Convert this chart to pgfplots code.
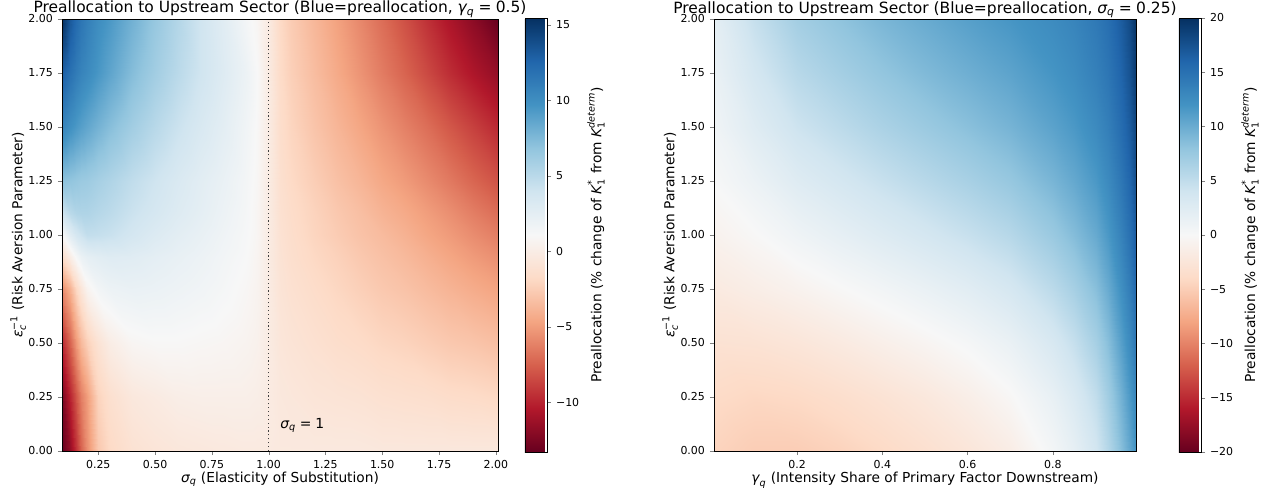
\documentclass[border=0pt]{standalone}
\usepackage{amsmath}
\usepackage{pgfplots}
\pgfplotsset{compat=1.18}
\usepackage{fontspec}
\setmainfont{DejaVu Sans}
\newcommand{\mi}[1]{\text{\itshape #1}}
\newcommand{\mr}[1]{\text{#1}}
\newcommand{\cblabel}{Preallocation (\% change of $\mi{K}_{\mr{1}}^{\mr{*}}$ from $\mi{K}_{\mr{1}}^{\mi{determ}}$)}
\newcommand{\epslabel}{$\mi{ε}_{\mi{c}}^{\mr{−1}}$ (Risk Aversion Parameter)}

\pgfplotsset{
  colormap={RdBu}{rgb255=(103,0,31) rgb255=(178,24,43) rgb255=(214,96,77) rgb255=(244,165,130) rgb255=(253,219,199) rgb255=(247,247,247) rgb255=(209,229,240) rgb255=(146,197,222) rgb255=(67,147,195) rgb255=(33,102,172) rgb255=(5,48,97)},
  every axis/.append style={
    /pgf/number format/assume math mode=true,
    tick label style={font=\fontsize{7.9}{9}\selectfont},
    label style={font=\fontsize{9.9}{12}\selectfont},
    tick align=outside,
    major tick length=3pt,
    axis line style={black, line width=0.6pt},
  },
  every axis title/.style={at={(0.5,1)}, anchor=south, inner sep=0.4pt, font=\fontsize{11.15}{13}\selectfont},
  heat/.style={
    scale only axis,
    height=311.04pt,
    ymin=0, ymax=2,
    ytick={0,0.25,0.5,0.75,1,1.25,1.5,1.75,2},
    yticklabels={0.00,0.25,0.50,0.75,1.00,1.25,1.50,1.75,2.00},
    xtick pos=bottom, ytick pos=left,
    axis on top,
    ylabel={\epslabel},
    ylabel shift=-5pt,
    xlabel shift=-4pt,
    colorbar,
  },
}

\begin{document}
\begin{tikzpicture}
\useasboundingbox (0,0) rectangle (907.92pt,354.24pt);

\begin{axis}[heat,
  at={(44.64pt,29.52pt)}, anchor=south west,
  width=313.92pt,
  xmin=0.0904, xmax=2.0096,
  xtick={0.25,0.5,0.75,1,1.25,1.5,1.75,2},
  xticklabels={0.25,0.50,0.75,1.00,1.25,1.50,1.75,2.00},
  xlabel={$\mi{σ}_{\mi{q}}$ (Elasticity of Substitution)},
  title={Preallocation to Upstream Sector (Blue=preallocation, $\mi{γ}_{\mi{q}}\mathrel{\mr{=}}\mr{0.5}$)},
  point meta min=-13.3, point meta max=15.46,
  colorbar style={
    at={(parent axis.north east)}, anchor=north west,
    xshift=10.9pt, yshift=0.72pt,
    width=15.84pt, height=312.48pt,
    ytick={-10,-5,0,5,10,15},
    yticklabels={−10,−5,0,5,10,15},
    ytick pos=right, yticklabel pos=right,
    ylabel={\cblabel},
    ylabel shift=-1pt,
  },
]
\addplot[surf, shader=interp, mesh/rows=11, mesh/cols=26, point meta=explicit] coordinates {
(0.0904,0)[-13.3] (0.125,0)[-11.6] (0.15,0)[-9.4] (0.175,0)[-7.4] (0.2,0)[-5.6] (0.25,0)[-2.8] (0.3,0)[-1.8] (0.4,0)[-1.1] (0.5,0)[-0.8] (0.6,0)[-0.6] (0.7,0)[-0.5] (0.8,0)[-0.4] (0.9,0)[-0.3] (0.95,0)[-0.3] (1.0,0)[-0.3] (1.05,0)[-0.4] (1.1,0)[-0.4] (1.2,0)[-0.4] (1.3,0)[-0.4] (1.4,0)[-0.4] (1.5,0)[-0.5] (1.6,0)[-0.5] (1.7,0)[-0.5] (1.8,0)[-0.5] (1.9,0)[-0.5] (2.0096,0)[-0.5]
(0.0904,0.25)[-12.6] (0.125,0.25)[-10.0] (0.15,0.25)[-8.0] (0.175,0.25)[-6.3] (0.2,0.25)[-5.0] (0.25,0.25)[-2.2] (0.3,0.25)[-1.3] (0.4,0.25)[-0.5] (0.5,0.25)[-0.2] (0.6,0.25)[0.1] (0.7,0.25)[0.2] (0.8,0.25)[0.2] (0.9,0.25)[0.2] (0.95,0.25)[0.1] (1.0,0.25)[-0.2] (1.05,0.25)[-0.5] (1.1,0.25)[-0.6] (1.2,0.25)[-0.8] (1.3,0.25)[-0.9] (1.4,0.25)[-1.0] (1.5,0.25)[-1.2] (1.6,0.25)[-1.3] (1.7,0.25)[-1.4] (1.8,0.25)[-1.6] (1.9,0.25)[-1.7] (2.0096,0.25)[-1.9]
(0.0904,0.5)[-9.8] (0.125,0.5)[-7.4] (0.15,0.5)[-5.2] (0.175,0.5)[-3.6] (0.2,0.5)[-2.4] (0.25,0.5)[-1.0] (0.3,0.5)[0.0] (0.4,0.5)[0.8] (0.5,0.5)[1.0] (0.6,0.5)[1.0] (0.7,0.5)[0.9] (0.8,0.5)[0.8] (0.9,0.5)[0.6] (0.95,0.5)[0.4] (1.0,0.5)[-0.2] (1.05,0.5)[-0.7] (1.1,0.5)[-0.9] (1.2,0.5)[-1.2] (1.3,0.5)[-1.5] (1.4,0.5)[-1.7] (1.5,0.5)[-2.0] (1.6,0.5)[-2.2] (1.7,0.5)[-2.5] (1.8,0.5)[-2.8] (1.9,0.5)[-3.0] (2.0096,0.5)[-3.3]
(0.0904,0.75)[-5.8] (0.125,0.75)[-4.0] (0.15,0.75)[-2.0] (0.175,0.75)[-0.7] (0.2,0.75)[0.6] (0.25,0.75)[1.5] (0.3,0.75)[1.9] (0.4,0.75)[2.1] (0.5,0.75)[2.0] (0.6,0.75)[1.8] (0.7,0.75)[1.6] (0.8,0.75)[1.3] (0.9,0.75)[0.9] (0.95,0.75)[0.6] (1.0,0.75)[-0.2] (1.05,0.75)[-0.9] (1.1,0.75)[-1.2] (1.2,0.75)[-1.6] (1.3,0.75)[-2.0] (1.4,0.75)[-2.4] (1.5,0.75)[-2.8] (1.6,0.75)[-3.1] (1.7,0.75)[-3.5] (1.8,0.75)[-3.9] (1.9,0.75)[-4.3] (2.0096,0.75)[-4.7]
(0.0904,0.9)[-1.5] (0.125,0.9)[0.0] (0.15,0.9)[1.2] (0.175,0.9)[2.0] (0.2,0.9)[2.4] (0.25,0.9)[2.7] (0.3,0.9)[2.9] (0.4,0.9)[2.8] (0.5,0.9)[2.5] (0.6,0.9)[2.2] (0.7,0.9)[1.9] (0.8,0.9)[1.5] (0.9,0.9)[1.1] (0.95,0.9)[0.7] (1.0,0.9)[-0.2] (1.05,0.9)[-1.0] (1.1,0.9)[-1.4] (1.2,0.9)[-1.9] (1.3,0.9)[-2.3] (1.4,0.9)[-2.8] (1.5,0.9)[-3.2] (1.6,0.9)[-3.6] (1.7,0.9)[-4.1] (1.8,0.9)[-4.6] (1.9,0.9)[-5.1] (2.0096,0.9)[-5.6]
(0.0904,1.0)[1.0] (0.125,1.0)[2.7] (0.15,1.0)[3.6] (0.175,1.0)[4.1] (0.2,1.0)[4.6] (0.25,1.0)[4.5] (0.3,1.0)[4.3] (0.4,1.0)[3.7] (0.5,1.0)[3.1] (0.6,1.0)[2.6] (0.7,1.0)[2.2] (0.8,1.0)[1.7] (0.9,1.0)[1.2] (0.95,1.0)[0.8] (1.0,1.0)[-0.2] (1.05,1.0)[-1.1] (1.1,1.0)[-1.5] (1.2,1.0)[-2.1] (1.3,1.0)[-2.6] (1.4,1.0)[-3.1] (1.5,1.0)[-3.5] (1.6,1.0)[-4.0] (1.7,1.0)[-4.6] (1.8,1.0)[-5.1] (1.9,1.0)[-5.7] (2.0096,1.0)[-6.3]
(0.0904,1.1)[4.0] (0.125,1.1)[5.0] (0.15,1.1)[5.4] (0.175,1.1)[5.5] (0.2,1.1)[5.5] (0.25,1.1)[5.2] (0.3,1.1)[4.9] (0.4,1.1)[4.2] (0.5,1.1)[3.6] (0.6,1.1)[3.0] (0.7,1.1)[2.5] (0.8,1.1)[1.9] (0.9,1.1)[1.3] (0.95,1.1)[0.8] (1.0,1.1)[-0.2] (1.05,1.1)[-1.2] (1.1,1.1)[-1.6] (1.2,1.1)[-2.2] (1.3,1.1)[-2.8] (1.4,1.1)[-3.3] (1.5,1.1)[-3.9] (1.6,1.1)[-4.4] (1.7,1.1)[-5.0] (1.8,1.1)[-5.6] (1.9,1.1)[-6.3] (2.0096,1.1)[-7.0]
(0.0904,1.25)[7.0] (0.125,1.25)[6.8] (0.15,1.25)[6.6] (0.175,1.25)[6.4] (0.2,1.25)[6.3] (0.25,1.25)[5.9] (0.3,1.25)[5.5] (0.4,1.25)[4.7] (0.5,1.25)[4.0] (0.6,1.25)[3.3] (0.7,1.25)[2.7] (0.8,1.25)[2.1] (0.9,1.25)[1.4] (0.95,1.25)[0.9] (1.0,1.25)[-0.2] (1.05,1.25)[-1.3] (1.1,1.25)[-1.8] (1.2,1.25)[-2.5] (1.3,1.25)[-3.2] (1.4,1.25)[-3.8] (1.5,1.25)[-4.5] (1.6,1.25)[-5.1] (1.7,1.25)[-5.8] (1.8,1.25)[-6.5] (1.9,1.25)[-7.3] (2.0096,1.25)[-8.1]
(0.0904,1.5)[10.7] (0.125,1.5)[9.9] (0.15,1.5)[9.4] (0.175,1.5)[9.0] (0.2,1.5)[8.6] (0.25,1.5)[7.9] (0.3,1.5)[7.2] (0.4,1.5)[6.1] (0.5,1.5)[5.1] (0.6,1.5)[4.2] (0.7,1.5)[3.4] (0.8,1.5)[2.6] (0.9,1.5)[1.6] (0.95,1.5)[1.0] (1.0,1.5)[-0.2] (1.05,1.5)[-1.5] (1.1,1.5)[-2.1] (1.2,1.5)[-3.0] (1.3,1.5)[-3.8] (1.4,1.5)[-4.6] (1.5,1.5)[-5.4] (1.6,1.5)[-6.2] (1.7,1.5)[-7.0] (1.8,1.5)[-7.9] (1.9,1.5)[-8.8] (2.0096,1.5)[-9.8]
(0.0904,1.75)[13.0] (0.125,1.75)[11.9] (0.15,1.75)[11.2] (0.175,1.75)[10.7] (0.2,1.75)[10.3] (0.25,1.75)[9.5] (0.3,1.75)[8.7] (0.4,1.75)[7.3] (0.5,1.75)[6.1] (0.6,1.75)[5.0] (0.7,1.75)[4.0] (0.8,1.75)[3.0] (0.9,1.75)[1.9] (0.95,1.75)[1.1] (1.0,1.75)[-0.3] (1.05,1.75)[-1.7] (1.1,1.75)[-2.4] (1.2,1.75)[-3.4] (1.3,1.75)[-4.4] (1.4,1.75)[-5.4] (1.5,1.75)[-6.4] (1.6,1.75)[-7.4] (1.7,1.75)[-8.5] (1.8,1.75)[-9.6] (1.9,1.75)[-10.6] (2.0096,1.75)[-11.6]
(0.0904,2)[15.4] (0.125,2)[13.3] (0.15,2)[12.3] (0.175,2)[11.6] (0.2,2)[11.0] (0.25,2)[10.1] (0.3,2)[9.4] (0.4,2)[8.0] (0.5,2)[6.6] (0.6,2)[5.3] (0.7,2)[4.0] (0.8,2)[2.8] (0.9,2)[1.4] (0.95,2)[0.8] (1.0,2)[-0.3] (1.05,2)[-1.8] (1.1,2)[-2.6] (1.2,2)[-3.7] (1.3,2)[-4.8] (1.4,2)[-5.9] (1.5,2)[-7.0] (1.6,2)[-8.2] (1.7,2)[-9.5] (1.8,2)[-10.7] (1.9,2)[-11.9] (2.0096,2)[-13.3]
};
\addplot[black!75, dotted, line width=0.8pt] coordinates {(1,0) (1,2)};
\node[anchor=west, font=\fontsize{10}{12}\selectfont] at (axis cs:1.03,0.12) {$\mi{σ}_{\mi{q}}\mathrel{\mr{=}}\mr{1}$};
\end{axis}

\begin{axis}[heat,
  at={(514.08pt,29.52pt)}, anchor=south west,
  width=303.84pt,
  xmin=0.005, xmax=0.995,
  xtick={0.2,0.4,0.6,0.8},
  xticklabels={0.2,0.4,0.6,0.8},
  xlabel={$\mi{γ}_{\mi{q}}$ (Intensity Share of Primary Factor Downstream)},
  title={Preallocation to Upstream Sector (Blue=preallocation, $\mi{σ}_{\mi{q}}\mathrel{\mr{=}}\mr{0.25}$)},
  point meta min=-20, point meta max=20,
  colorbar style={
    at={(parent axis.north east)}, anchor=north west,
    xshift=22.4pt, yshift=0.72pt,
    width=15.84pt, height=312.48pt,
    ytick={-20,-15,-10,-5,0,5,10,15,20},
    yticklabels={−20,−15,−10,−5,0,5,10,15,20},
    ytick pos=right, yticklabel pos=right,
    ylabel={\cblabel},
    ylabel shift=-1pt,
  },
]
\addplot[surf, shader=interp, mesh/rows=9, mesh/cols=15, point meta=explicit] coordinates {
(0.005,0)[-4.5] (0.1,0)[-5.0] (0.2,0)[-5.0] (0.3,0)[-4.6] (0.4,0)[-4.0] (0.5,0)[-3.3] (0.6,0)[-2.5] (0.7,0)[-1.5] (0.8,0)[0.5] (0.85,0)[1.8] (0.9,0)[3.8] (0.93,0)[5.8] (0.96,0)[8.5] (0.98,0)[10.5] (0.995,0)[12.0]
(0.005,0.25)[-3.9] (0.1,0.25)[-4.2] (0.2,0.25)[-4.0] (0.3,0.25)[-3.5] (0.4,0.25)[-2.9] (0.5,0.25)[-2.2] (0.6,0.25)[-1.3] (0.7,0.25)[-0.2] (0.8,0.25)[1.6] (0.85,0.25)[3.0] (0.9,0.25)[5.0] (0.93,0.25)[7.0] (0.96,0.25)[9.6] (0.98,0.25)[11.6] (0.995,0.25)[13.2]
(0.005,0.5)[-3.0] (0.1,0.5)[-2.9] (0.2,0.5)[-2.5] (0.3,0.5)[-1.9] (0.4,0.5)[-1.2] (0.5,0.5)[-0.5] (0.6,0.5)[0.3] (0.7,0.5)[1.4] (0.8,0.5)[3.3] (0.85,0.5)[4.7] (0.9,0.5)[6.7] (0.93,0.5)[8.5] (0.96,0.5)[11.0] (0.98,0.5)[12.8] (0.995,0.5)[14.5]
(0.005,0.75)[-1.9] (0.1,0.75)[-1.4] (0.2,0.75)[-0.8] (0.3,0.75)[-0.1] (0.4,0.75)[0.6] (0.5,0.75)[1.4] (0.6,0.75)[2.3] (0.7,0.75)[3.5] (0.8,0.75)[5.4] (0.85,0.75)[6.7] (0.9,0.75)[8.5] (0.93,0.75)[10.1] (0.96,0.75)[12.3] (0.98,0.75)[14.0] (0.995,0.75)[15.7]
(0.005,1)[-0.8] (0.1,1)[-0.1] (0.2,1)[0.9] (0.3,1)[1.8] (0.4,1)[2.7] (0.5,1)[3.6] (0.6,1)[4.6] (0.7,1)[5.7] (0.8,1)[7.5] (0.85,1)[8.7] (0.9,1)[10.2] (0.93,1)[11.6] (0.96,1)[13.5] (0.98,1)[15.1] (0.995,1)[16.8]
(0.005,1.25)[0.1] (0.1,1.25)[1.2] (0.2,1.25)[2.6] (0.3,1.25)[3.6] (0.4,1.25)[4.6] (0.5,1.25)[5.6] (0.6,1.25)[6.6] (0.7,1.25)[7.7] (0.8,1.25)[9.3] (0.85,1.25)[10.3] (0.9,1.25)[11.6] (0.93,1.25)[12.8] (0.96,1.25)[14.5] (0.98,1.25)[16.0] (0.995,1.25)[17.7]
(0.005,1.5)[0.8] (0.1,1.5)[2.5] (0.2,1.5)[4.2] (0.3,1.5)[5.3] (0.4,1.5)[6.4] (0.5,1.5)[7.4] (0.6,1.5)[8.4] (0.7,1.5)[9.4] (0.8,1.5)[10.8] (0.85,1.5)[11.6] (0.9,1.5)[12.8] (0.93,1.5)[13.8] (0.96,1.5)[15.4] (0.98,1.5)[16.8] (0.995,1.5)[18.5]
(0.005,1.75)[1.4] (0.1,1.75)[3.6] (0.2,1.75)[5.6] (0.3,1.75)[6.8] (0.4,1.75)[7.9] (0.5,1.75)[8.9] (0.6,1.75)[9.8] (0.7,1.75)[10.7] (0.8,1.75)[11.9] (0.85,1.75)[12.6] (0.9,1.75)[13.7] (0.93,1.75)[14.6] (0.96,1.75)[16.1] (0.98,1.75)[17.5] (0.995,1.75)[19.2]
(0.005,2)[2.0] (0.1,2)[4.7] (0.2,2)[6.9] (0.3,2)[8.1] (0.4,2)[9.2] (0.5,2)[10.1] (0.6,2)[11.0] (0.7,2)[11.8] (0.8,2)[12.7] (0.85,2)[13.3] (0.9,2)[14.3] (0.93,2)[15.2] (0.96,2)[16.7] (0.98,2)[18.1] (0.995,2)[19.8]
};
\end{axis}
\end{tikzpicture}
\end{document}
